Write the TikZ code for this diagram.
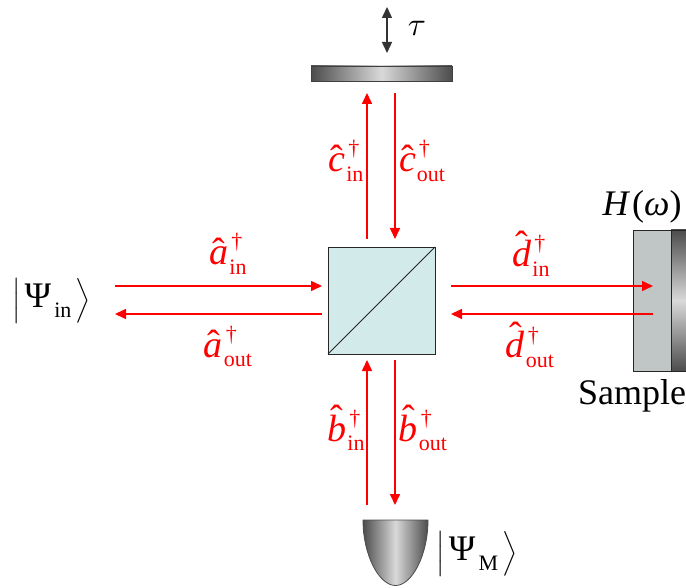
\documentclass[tikz,border=0pt]{standalone}
\usepackage{amsmath}
\usepackage{fontspec}
\setmainfont{Liberation Serif}
\usetikzlibrary{calc,positioning,arrows.meta}
\definecolor{beamred}{RGB}{255,0,0}
\definecolor{cubeteal}{RGB}{210,234,234}
\definecolor{samplegray}{RGB}{192,197,197}
\newsavebox{\letterbox}
\newcommand{\subfont}{\fontsize{22}{24}\selectfont}
\newcommand{\hatted}[1]{\sbox{\letterbox}{\textit{#1}}\rlap{\makebox[\wd\letterbox]{\raisebox{\dimexpr\ht\letterbox-.45em}{ˆ}}}\usebox{\letterbox}}
\newcommand{\oper}[2]{\hatted{#1}\rlap{\kern3pt\raisebox{16pt}{\subfont †}}\raisebox{-9.5pt}{\subfont\kern1pt #2}}
\newcommand{\ketstate}[1]{$\left|\,\hbox{Ψ\raisebox{-10pt}{\subfont\kern3pt #1}}\,\right\rangle$}

\begin{document}
\begin{tikzpicture}[x=1pt,y=-1pt,>={Triangle[length=11pt,width=10pt]},
  every node/.style={inner sep=0pt,outer sep=0pt,align=center},
  beam/.style={draw=beamred,line width=1.6pt},
  oplabel/.style={text=beamred,anchor=base,font=\fontsize{38}{42}\selectfont},
  bigtext/.style={font=\fontsize{36}{40}\selectfont},
  mirror/.style={draw=black!75,line width=.8pt,left color=black!70,right color=black!70,middle color=black!15,minimum width=141pt,minimum height=15pt}]

\useasboundingbox (0,0) rectangle (686,588);

% Divisor de haz
\node[draw=black!85,fill=cubeteal,line width=.8pt,minimum size=107pt] (cube) at (381.5,300.5) {};
\draw[black!85,line width=.8pt] (cube.south west) -- (cube.north east);

% Espejo superior
\node[mirror] (topmirror) at (381.5,73.5) {};
\coordinate (tautop) at (387,7);
\coordinate (taubot) at (387,53);
\draw[<->,black!80,line width=1.4pt] (tautop) -- (taubot);
\node (tau) at (417,28) {\scalebox{3.3}{$\tau$}};

% Muestra
\node[draw=black!85,fill=samplegray,line width=.8pt,minimum width=38pt,minimum height=141pt] (sample) at (652,300.5) {};
\node[draw=black!85,line width=.8pt,top color=black!70,bottom color=black!70,middle color=black!15,minimum width=15pt,minimum height=141pt,right=0pt of sample] (backing) {};
\node[bigtext] (hlabel) at (642,207) {\textit{H}\kern2pt(\textit{ω})};
\node[bigtext,below=9pt of backing.south east,anchor=north east] (samplelabel) {Sample};

% Detector
\coordinate (detleft) at (363,520);
\coordinate (detright) at (428,520);
\coordinate (detbot) at (395.5,585.5);
\draw[black!70,line width=.8pt,left color=black!70,right color=black!70,middle color=black!15]
  (detleft) -- (detright) .. controls (428,555) and (412,585.5) .. (detbot)
  .. controls (379,585.5) and (363,555) .. cycle;

% Extremos de los haces
\coordinate (westin) at (115,286);
\coordinate (westout) at (115,314);
\coordinate (cubewa) at (322,286);
\coordinate (cubewb) at (322,314);
\coordinate (cubeea) at (451,286);
\coordinate (cubeeb) at (451,314);
\coordinate (eastin) at (653,286);
\coordinate (eastout) at (653,314);
\coordinate (cubena) at (367,239);
\coordinate (cubenb) at (395,239);
\coordinate (northin) at (367,93);
\coordinate (northout) at (395,93);
\coordinate (cubesa) at (367,360);
\coordinate (cubesb) at (395,360);
\coordinate (southin) at (367,505);
\coordinate (southout) at (395,505);

% Haces
\draw[->,beam] (westin) -- (cubewa);
\draw[->,beam] (cubewb) -- (westout);
\draw[->,beam] (cubeea) -- (eastin);
\draw[->,beam] (eastout) -- (cubeeb);
\draw[->,beam] (cubena) -- (northin);
\draw[->,beam] (northout) -- (cubenb);
\draw[->,beam] (southin) -- (cubesa);
\draw[->,beam] (cubesb) -- (southout);

% Etiquetas de los modos
\node[oplabel] (ain) at (228,265) {\oper{a}{in}};
\node[oplabel] (aout) at (228,357) {\oper{a}{out}};
\node[oplabel] (din) at (531,267) {\oper{d}{in}};
\node[oplabel] (dout) at (530,358) {\oper{d}{out}};
\node[oplabel] (cin) at (346,172) {\oper{c}{in}};
\node[oplabel] (cout) at (422,172) {\oper{c}{out}};
\node[oplabel] (bin) at (346,441) {\oper{b}{in}};
\node[oplabel] (bout) at (423,441) {\oper{b}{out}};

% Estados
\node[bigtext] (psiin) at (51.5,301) {\ketstate{in}};
\node[bigtext] (psim) at (477,554) {\ketstate{M}};

\end{tikzpicture}
\end{document}
